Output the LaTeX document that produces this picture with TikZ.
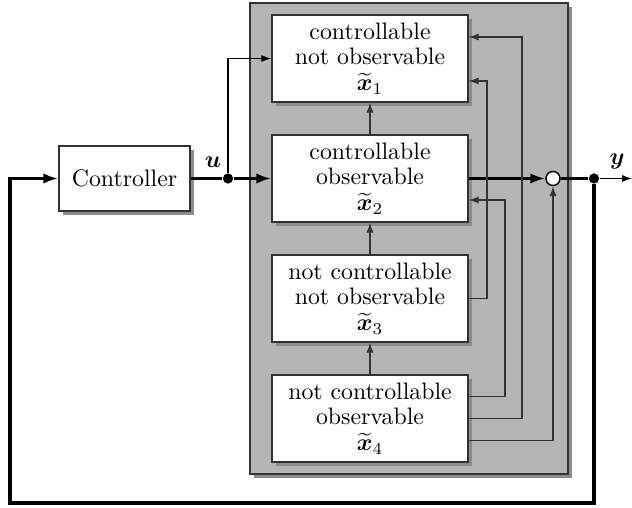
\documentclass[tikz,border=0pt]{standalone}
\usepackage{amsmath,bm}
\usetikzlibrary{arrows.meta,shadows,calc}
\definecolor{bg}{gray}{0.71}
\definecolor{shd}{gray}{0.55}
\definecolor{ln}{gray}{0.2}
\begin{document}
\begin{tikzpicture}[x=0.42pt,y=-0.42pt,
  box/.style={draw=ln, fill=white, line width=0.6pt, minimum width=82.3pt, minimum height=36.5pt,
    align=center, inner sep=0pt, font=\fontsize{10pt}{10.6pt}\selectfont,
    drop shadow={shadow xshift=1.7pt, shadow yshift=-1.7pt, fill=shd, opacity=1}},
  thinarr/.style={draw=ln, line width=0.5pt, -{Latex[length=4.2pt,width=3pt]}},
  thickarr/.style={line width=1.3pt, -{Latex[length=6.3pt,width=4.4pt]}},
  thickline/.style={line width=1.3pt},
  jdot/.style={circle, fill=black, inner sep=0pt, minimum size=4.3pt},
]
\useasboundingbox (0,0) rectangle (632,508);
% system box
\node[draw=ln, fill=bg, line width=0.6pt, minimum width=133.6pt, minimum height=197.8pt, inner sep=0pt,
  drop shadow={shadow xshift=1.7pt, shadow yshift=-1.7pt, fill=shd, opacity=1}] (sys) at (409,238.5) {};
% subsystems
\node[box] (b1) at (370,58.5) {controllable\\not observable\\[0.3pt]$\widetilde{\bm{x}}_1$};
\node[box] (b2) at (370,178.5) {controllable\\observable\\[0.3pt]$\widetilde{\bm{x}}_2$};
\node[box] (b3) at (370,298.5) {not controllable\\not observable\\[0.3pt]$\widetilde{\bm{x}}_3$};
\node[box] (b4) at (370,418.5) {not controllable\\observable\\[0.3pt]$\widetilde{\bm{x}}_4$};
% controller
\node[draw=ln, fill=white, line width=0.6pt, minimum width=55pt, minimum height=27.3pt, inner sep=0pt,
  drop shadow={shadow xshift=1.7pt, shadow yshift=-1.7pt, fill=shd, opacity=1}] (ctrl) at (124.5,178.5) {Controller};
% sum, dots
\node[circle, draw=black, fill=white, line width=0.6pt, minimum size=5.9pt, inner sep=0pt] (sum) at (553,178.5) {};
\node[jdot] (udot) at (228,178.5) {};
\node[jdot] (odot) at (594,178.5) {};
\coordinate (yend) at (632,178.5);
\coordinate (fbL) at (10,503);
\coordinate (k1) at (522,37);
\coordinate (k2) at (487,81);
\coordinate (k3) at (505,200);
% main path
\draw[thickline] (ctrl.east) -- (udot);
\draw[thickarr] (udot) -- (b2.west);
\node at (213,162) {$\bm{u}$};
\draw[thinarr, draw=black] (udot) |- (b1.west);
\draw[thickarr] (b2.east) -- (sum.west);
\draw[thickline] (sum.east) -- (odot);
\draw[line width=0.5pt, -{Latex[length=4.2pt,width=3pt]}] (odot) -- (yend);
\node at (617,162) {$\bm{y}$};
\draw[thickarr] (odot) |- (fbL) |- (ctrl.west);
% internal arrows
\draw[thinarr] (b2.north) -- (b1.south);
\draw[thinarr] (b3.north) -- (b2.south);
\draw[thinarr] (b4.north) -- (b3.south);
\draw[thinarr] (b4.east) -| (k1) -- (k1 -| b1.east);
\draw[thinarr] (b3.east) -| (k2) -- (k2 -| b1.east);
\draw[thinarr] ($(b4.east)+(0,-22)$) -| (k3) -- (k3 -| b2.east);
\draw[thinarr] ($(b4.east)+(0,22)$) -| (sum.south);
\end{tikzpicture}
\end{document}
